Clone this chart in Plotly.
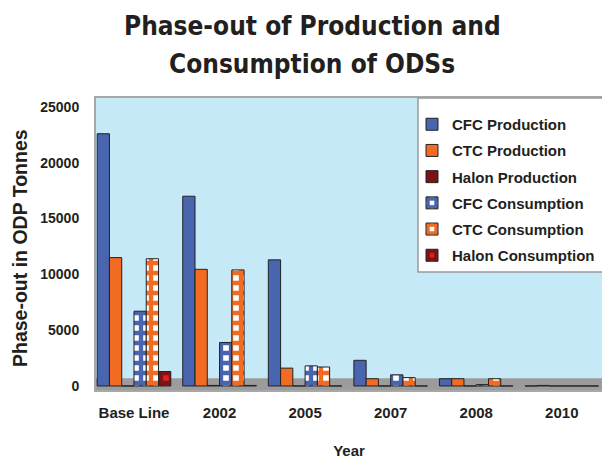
import plotly.graph_objects as go

categories = ["Base Line", "2002", "2005", "2007", "2008", "2010"]
cfc_production = [22600, 17000, 11300, 2300, 650, 0]
ctc_production = [11500, 10450, 1600, 650, 650, 50]
halon_production = [0, 50, 0, 0, 0, 0]
cfc_consumption = [6700, 3900, 1800, 1000, 120, 0]
ctc_consumption = [11400, 10400, 1700, 750, 650, 0]
halon_consumption = [1300, 50, 0, 0, 0, 0]
y_ticks = [0, 5000, 10000, 15000, 20000, 25000]
y_tick_labels = ["0", "5000", "10000", "15000", "20000", "25000"]
title_lines = ["Phase-out of Production and", "Consumption of ODSs"]

BLUE = "#4A65B0"
ORANGE = "#F26B22"
DARKRED = "#7A1216"
RED = "#E31E24"
TXT = "#231F20"
ARIAL = "Liberation Sans, Arial"

series = [
    ("CFC Production", cfc_production, BLUE, None),
    ("CTC Production", ctc_production, ORANGE, None),
    ("Halon Production", halon_production, DARKRED, None),
    ("CFC Consumption", cfc_consumption, "white", BLUE),
    ("CTC Consumption", ctc_consumption, "white", ORANGE),
    ("Halon Consumption", halon_consumption, RED, DARKRED),
]

fig = go.Figure()
for i, (name, vals, col, pat) in enumerate(series):
    marker = dict(color=col, line=dict(color="#222222", width=1))
    if pat is not None:
        marker["pattern"] = dict(shape="+", fgcolor=pat, bgcolor=col, size=10,
                                 solidity=0.68, fgopacity=1)
    fig.add_trace(go.Bar(
        name=name, x=categories, y=vals, marker=marker,
        legendgroup=f"g{i}",
    ))

PH = 292.0  # plot height in px
PW = 506.0  # plot width in px

fig.update_layout(
    width=602, height=459,
    margin=dict(l=96, r=0, t=98, b=69),
    paper_bgcolor="white",
    plot_bgcolor="#C6E9F8",
    barmode="group",
    bargap=0.14,
    bargroupgap=0,
    legend=dict(
        x=(412 - 96) / PW, xanchor="left", y=(390 - 108) / PH, yanchor="top",
        bgcolor="rgba(0,0,0,0)", borderwidth=0,
        font=dict(family=ARIAL, size=15, color=TXT, weight="bold"),
        traceorder="grouped", tracegroupgap=3.7,
        itemwidth=30,
    ),
    font=dict(family=ARIAL, size=15, color=TXT),
)

# legend frame
fig.add_shape(type="rect", xref="paper", yref="paper",
              x0=(418 - 96) / PW, x1=(606 - 96) / PW,
              y0=(390 - 272) / PH, y1=1.0,
              fillcolor="white", line=dict(color="#9A9A9A", width=1.5), layer="above")

for line, ypix in zip(title_lines, [26, 64]):
    fig.add_annotation(
        text=f"<b>{line}</b>", showarrow=False,
        xref="paper", yref="paper",
        x=(312 - 96) / PW, y=(390 - ypix) / PH,
        xanchor="center", yanchor="middle",
        font=dict(family="DejaVu Sans Condensed", size=26, color=TXT),
    )

# y-axis title
fig.add_annotation(
    text="<b>Phase-out in ODP Tonnes</b>", showarrow=False, textangle=-90,
    xref="paper", yref="paper",
    x=(20 - 96) / PW, y=(390 - 248) / PH,
    xanchor="center", yanchor="middle",
    font=dict(family=ARIAL, size=19.5, color=TXT),
)

fig.update_xaxes(
    range=[-0.444, 5.47],
    tickfont=dict(family=ARIAL, size=15, color=TXT, weight="bold"),
    title=dict(text="<b>Year</b>", standoff=35,
               font=dict(family=ARIAL, size=15, color=TXT)),
    showline=True, linecolor="#A8A8A8", linewidth=2, mirror=True,
    showgrid=False, ticks="", automargin=False, ticklabelstandoff=8,
)
fig.update_yaxes(
    range=[-360, 25800],
    tickvals=y_ticks, ticktext=y_tick_labels,
    tickfont=dict(family=ARIAL, size=14, color=TXT, weight="bold"),
    showline=True, linecolor="#A8A8A8", linewidth=2,
    showgrid=False, zeroline=False, ticks="", ticklabelstandoff=12,
    automargin=False,
)

# grey floor of the chart
fig.add_shape(type="rect", xref="paper", yref="y", x0=0, x1=1, y0=-360, y1=700,
              fillcolor="#9C9C9C", line=dict(width=0), layer="below")

fig.write_html("out.html", config={"displayModeBar": False},
               post_script="document.body.style.margin='0';")
